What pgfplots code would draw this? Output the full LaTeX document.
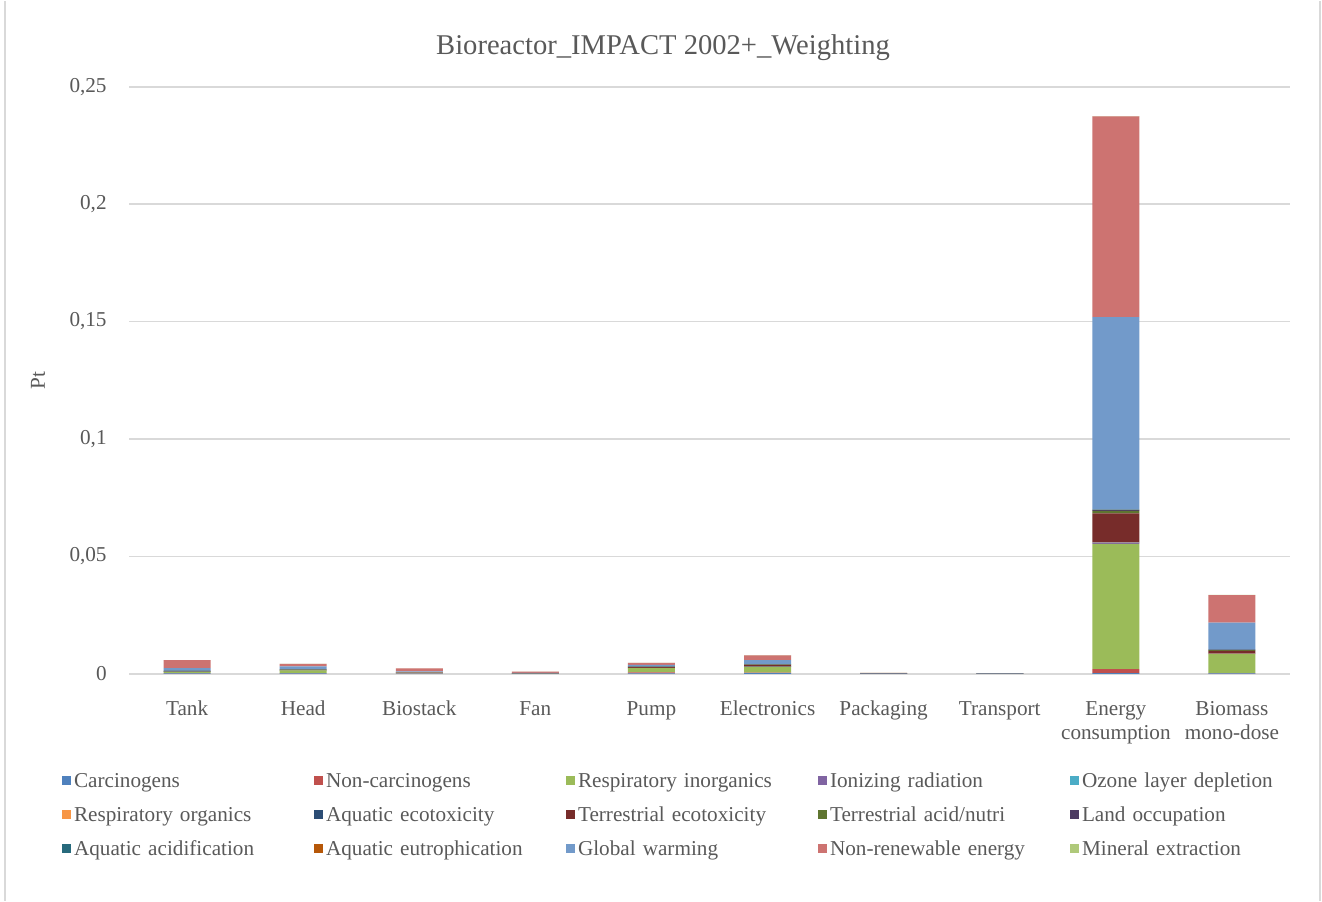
\documentclass[border=0pt]{standalone}
\usepackage{fontspec}
\setmainfont{Liberation Serif}
\usepackage{pgfplots}
\usepackage{pgfplotstable}
\pgfplotsset{compat=1.18}
\definecolor{txt}{HTML}{595959}
\definecolor{gridc}{HTML}{D9D9D9}
\definecolor{c1}{HTML}{4F81BD}
\definecolor{c2}{HTML}{C0504D}
\definecolor{c3}{HTML}{9BBB59}
\definecolor{c4}{HTML}{8064A2}
\definecolor{c5}{HTML}{4BACC6}
\definecolor{c6}{HTML}{F79646}
\definecolor{c7}{HTML}{2C4D75}
\definecolor{c8}{HTML}{772C2A}
\definecolor{c9}{HTML}{5F7530}
\definecolor{c10}{HTML}{4D3B62}
\definecolor{c11}{HTML}{276A7C}
\definecolor{c12}{HTML}{B65708}
\definecolor{c13}{HTML}{729ACA}
\definecolor{c14}{HTML}{CD7371}
\definecolor{c15}{HTML}{AFC97A}
\newcommand{\lbl}{\fontsize{10.6bp}{12bp}\selectfont}

% x: 0 Tank, 1 Head, 2 Biostack, 3 Fan, 4 Pump, 5 Electronics, 6 Packaging, 7 Transport, 8 Energy consumption, 9 Biomass mono-dose
\pgfplotstableread{
x C NC RI IR OZ RO AE TE TA LO AA AU GW NR ME
0 0.0002 0.0001 0.0005 0.00002 0.00001 0.00001 0.00002 0.0002 0.0001 0.00001 0.00002 0.00001 0.0012 0.0034 0.00001
1 0.0002 0.0001 0.0011 0.00002 0.00001 0.00001 0.00002 0.0002 0.0001 0.00001 0.00002 0.00001 0.0013 0.0011 0.00001
2 0.0001 0.0001 0.0002 0.00001 0.00001 0.00001 0.00001 0.0001 0.00003 0.00001 0.00001 0.00001 0.0004 0.0013 0.00001
3 0.00003 0.00003 0.0001 0.00001 0.00001 0.00001 0.00001 0.00002 0.00001 0.00001 0.00001 0.00001 0.0001 0.0005 0.00001
4 0.0002 0.0004 0.0018 0.00003 0.00001 0.00001 0.00002 0.0004 0.0001 0.00001 0.00002 0.00001 0.0008 0.0008 0.00001
5 0.0003 0.0002 0.0024 0.00005 0.00001 0.00001 0.00003 0.0008 0.0001 0.00002 0.00003 0.00001 0.0018 0.0021 0.00002
6 0.00001 0.00001 0.00005 0.000005 0.000005 0.000005 0.000005 0.00001 0.000005 0.000005 0.000005 0.000005 0.00005 0.0002 0.000005
7 0.000002 0.000002 0.00001 0.000001 0.000001 0.000001 0.000001 0.000002 0.000001 0.000001 0.000001 0.000001 0.00001 0.00002 0.000001
8 0.0003 0.0017 0.0533 0.0005 0.00005 0.0001 0.0001 0.0123 0.0010 0.0003 0.0002 0.00002 0.0820 0.0855 0.0001
9 0.0002 0.0001 0.0081 0.0001 0.00001 0.00002 0.00003 0.0012 0.0003 0.0001 0.00005 0.00001 0.0116 0.0117 0.00005
}\datatable

\begin{document}
\begin{tikzpicture}
\begin{axis}[
  at={(0,0)}, anchor=south west,
  scale only axis, width=580.5bp, height=293.5bp,
  xmin=-0.5, xmax=9.5, ymin=0, ymax=0.25,
  enlargelimits=false,
  ybar stacked, bar width=23.5bp,
  legend image code/.code={\fill[#1] (0bp,-1.05bp) rectangle (4.5bp,3.45bp);},
  axis line style={draw=none},
  major tick length=0pt,
  ymajorgrids, grid style={gridc, line width=0.75bp},
  xtick={0,1,2,3,4,5,6,7,8,9},
  xticklabels={Tank,Head,Biostack,Fan,Pump,Electronics,Packaging,Transport,{Energy\\consumption},{Biomass\\mono-dose}},
  xticklabel style={font=\lbl, text=txt, align=center, anchor=north, inner sep=0pt, yshift=-13.5bp},
  ytick={0,0.05,0.1,0.15,0.2,0.25},
  scaled y ticks=false,
  yticklabel style={font=\lbl, text=txt, anchor=east, inner sep=0pt, xshift=-11bp,
    /pgf/number format/.cd, fixed, use comma, precision=2, assume math mode=true},
  ylabel={Pt},
  ylabel style={font=\lbl, text=txt, at={(axis description cs:0,0.5)}, anchor=center, rotate=0, yshift=45.5bp},
  title={Bioreactor\_IMPACT 2002+\_Weighting},
  title style={font=\fontsize{14.3bp}{16bp}\selectfont, text=txt, at={(axis description cs:0.5,1)}, anchor=base, xshift=-23.25bp, yshift=10bp},
  legend columns=5,
  legend cell align=left,
  legend style={at={(axis description cs:-0.0577,-0.1681)}, anchor=north west, draw=none, fill=none, inner sep=0pt,
    font=\lbl, row sep=7bp,
    nodes={text width=116bp, inner xsep=1.3bp, inner ysep=0pt, text height=7.5bp, text depth=2.5bp, align=left, text=txt},
    /tikz/every odd column/.append style={column sep=0pt},
    /tikz/every even column/.append style={column sep=2.9bp}},
]
\addplot[fill=c1, draw=none] table[x=x, y=C] {\datatable}; \addlegendentry{Carcinogens}
\addplot[fill=c2, draw=none] table[x=x, y=NC] {\datatable}; \addlegendentry{Non-carcinogens}
\addplot[fill=c3, draw=none] table[x=x, y=RI] {\datatable}; \addlegendentry{Respiratory inorganics}
\addplot[fill=c4, draw=none] table[x=x, y=IR] {\datatable}; \addlegendentry{Ionizing radiation}
\addplot[fill=c5, draw=none] table[x=x, y=OZ] {\datatable}; \addlegendentry{Ozone layer depletion}
\addplot[fill=c6, draw=none] table[x=x, y=RO] {\datatable}; \addlegendentry{Respiratory organics}
\addplot[fill=c7, draw=none] table[x=x, y=AE] {\datatable}; \addlegendentry{Aquatic ecotoxicity}
\addplot[fill=c8, draw=none] table[x=x, y=TE] {\datatable}; \addlegendentry{Terrestrial ecotoxicity}
\addplot[fill=c9, draw=none] table[x=x, y=TA] {\datatable}; \addlegendentry{Terrestrial acid/nutri}
\addplot[fill=c10, draw=none] table[x=x, y=LO] {\datatable}; \addlegendentry{Land occupation}
\addplot[fill=c11, draw=none] table[x=x, y=AA] {\datatable}; \addlegendentry{Aquatic acidification}
\addplot[fill=c12, draw=none] table[x=x, y=AU] {\datatable}; \addlegendentry{Aquatic eutrophication}
\addplot[fill=c13, draw=none] table[x=x, y=GW] {\datatable}; \addlegendentry{Global warming}
\addplot[fill=c14, draw=none] table[x=x, y=NR] {\datatable}; \addlegendentry{Non-renewable energy}
\addplot[fill=c15, draw=none] table[x=x, y=ME] {\datatable}; \addlegendentry{Mineral extraction}
\draw[gridc, line width=0.75bp] (axis cs:-0.5,0) -- (axis cs:9.5,0);
\end{axis}
\draw[gridc, line width=0.75bp] (-62bp,-113.5bp) -- (-62bp,336.5bp);
\draw[gridc, line width=0.75bp] (595.5bp,-113.5bp) -- (595.5bp,336.5bp);
\useasboundingbox (-64.5bp,-113.5bp) rectangle (596.5bp,336.5bp);
\end{tikzpicture}
\end{document}
